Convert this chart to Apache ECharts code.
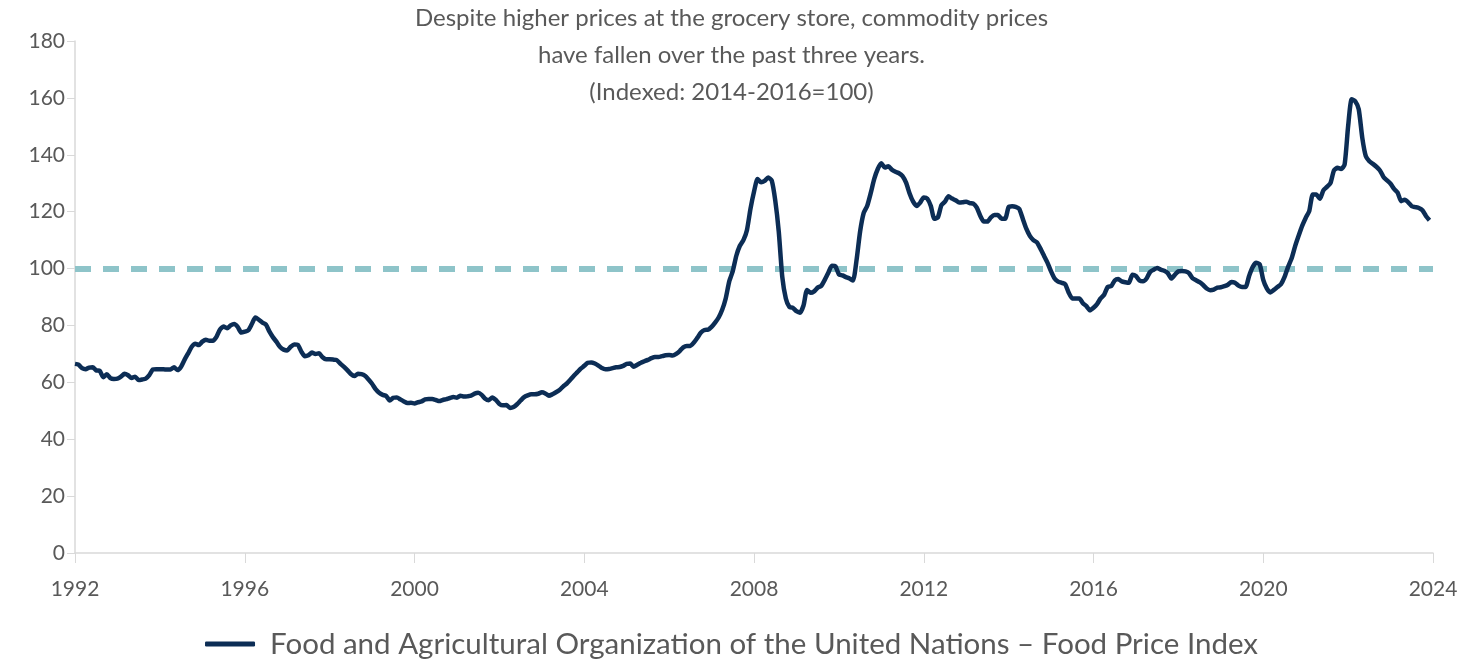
<!DOCTYPE html>
<html>
<head>
<meta charset="utf-8">
<script src="https://cdn.jsdelivr.net/npm/echarts@6/dist/echarts.min.js"></script>
<style>
  html, body { margin: 0; padding: 0; background: #fff; }
  #chart { width: 1463px; height: 661px; }
</style>
</head>
<body>
<div id="chart"></div>
<script>
// FAO Food Price Index, monthly, Jan 1992 onward (2014-2016 = 100)
const startYear = 1992;
const fpi1990s = [
  66.5, 66.2, 65, 64.6, 65.2, 65.3, 64.2, 64, 61.8, 62.8, 61.5, 61.2,
  61.3, 62, 63, 62.5, 61.5, 62, 60.8, 61, 61.3, 62.5, 64.5, 64.6,
  64.6, 64.6, 64.5, 64.5, 65.3, 64.3, 65.5, 68, 70.2, 72.5, 73.6, 73.1,
  74.3, 75, 74.6, 74.6, 76, 78.6, 79.6, 79, 80, 80.5, 79.5, 77.5,
  77.8, 78.3, 80.5, 82.8, 82, 81, 80.3, 77.8, 75.8, 74.2, 72.4, 71.5,
  71.2, 72.5, 73.3, 73.2, 70.8, 69.2, 69.5, 70.5, 70, 70.2, 68.8, 68.1,
  68.1, 68, 67.8, 66.6, 65.5, 64.3, 62.9, 62.2, 63, 62.9, 62.3, 61,
  59.5, 57.6, 56.3, 55.6, 55.2, 53.6, 54.6, 54.7, 54, 53.3, 52.7, 52.8
];
const fpi2000s = [
  52.6, 53, 53.3, 54, 54.1, 54.1, 53.8, 53.4, 53.8, 54.1, 54.5, 54.8,
  54.6, 55.3, 55, 55.1, 55.3, 56, 56.3, 55.6, 54.2, 53.7, 54.7, 53.8,
  52.4, 51.9, 52, 51, 51.3, 52.3, 53.6, 54.8, 55.4, 55.8, 55.8, 56,
  56.5, 56.1, 55.3, 55.8, 56.5, 57.3, 58.5, 59.5, 60.8, 62.2, 63.5, 64.8,
  65.8, 66.9, 67, 66.6, 65.9, 65, 64.6, 64.7, 65, 65.3, 65.4, 65.8,
  66.5, 66.6, 65.5, 66.2, 66.9, 67.4, 67.9, 68.5, 68.9, 68.9, 69.2, 69.5,
  69.6, 69.4, 70, 71, 72.3, 72.8, 72.8, 74, 75.7, 77.5, 78.4, 78.5,
  79.5, 81, 82.8, 85.5, 89.5, 95.5, 99.1, 104.5, 108, 110, 113.5, 121,
  127, 131.5, 130.3, 130.8, 132, 131, 124, 113, 97, 89.5, 86.5, 86.2,
  85, 84.5, 87, 92.5, 91.5, 92, 93.3, 93.9, 96, 98.5, 101, 100.8
];
const fpi2010s = [
  98, 97.6, 97, 96.5, 95.8, 103, 113, 119.5, 122, 126.5, 131.5, 135,
  137, 135.5, 136, 134.7, 134, 133.5, 132.5, 130.2, 126.4, 123.5, 122, 123.2,
  125, 124.6, 122, 117.5, 118, 122.3, 123.5, 125.4, 124.6, 124, 123.2, 123.3,
  123.5, 123, 122.8, 121.4, 118.5, 116.5, 116.5, 118, 118.8, 118.8, 117.5, 117.5,
  121.6, 121.9, 121.7, 121, 117.5, 114, 111.5, 110, 109.2, 107, 104.5, 102,
  99, 96.5, 95.4, 95, 94.5, 91.5, 89.5, 89.5, 89.5, 87.8, 86.8, 85.3,
  86.2, 87.5, 89.5, 90.8, 93.5, 93.8, 95.8, 96.3, 95.5, 95.2, 95, 97.8,
  97.4, 95.8, 95.5, 96.5, 98.8, 99.6, 100.2, 99.6, 99.2, 98.4, 96.5, 97.8,
  99, 99.1, 99, 98.4, 96.6, 95.9, 95.2, 94.2, 93, 92.4, 92.6, 93.3,
  93.4, 93.8, 94.3, 95.3, 95, 94, 93.5, 93.5, 97.4, 100.5, 102, 101.5
];
const fpi2020s = [
  96, 93, 91.6, 92.5, 93.5, 94.5, 97, 100.5, 103.5, 107.8, 111.5, 115,
  117.8, 120.2, 126, 126, 124.5, 127.5, 128.7, 130, 134.5, 135.4, 135, 136.5,
  150, 159.5, 158.8, 156, 146, 139.5, 137.7, 136.8, 135.8, 134.5, 132.2, 131,
  129.8, 128, 126.7, 123.7, 124.2, 123.3, 121.9, 121.6, 121.3, 120.5, 118.5, 117
];
const baseline = 100;
const yTicks = [0, 20, 40, 60, 80, 100, 120, 140, 160, 180];

const titleLines = [
  'Despite higher prices at the grocery store, commodity prices',
  'have fallen over the past three years.',
  '(Indexed: 2014-2016=100)'
];
const seriesName = 'Food and Agricultural Organization of the United Nations \u2013 Food Price Index';

const allValues = [].concat(fpi1990s, fpi2000s, fpi2010s, fpi2020s);
const seriesData = allValues.map((v, i) => [startYear + i / 12, v]);

const textColor = '#595959';
const font = 'Lato';

const chart = echarts.init(document.getElementById('chart'));
chart.setOption({
  animation: false,
  title: {
    text: titleLines.join('\n'),
    left: 'center',
    top: 0,
    padding: 0,
    textStyle: { fontFamily: font, fontSize: 24, fontWeight: 'normal', color: textColor, lineHeight: 37 }
  },
  grid: { left: 75, right: 30, top: 41, bottom: 108 },
  legend: {
    top: 624,
    left: 'center',
    icon: 'roundRect',
    itemWidth: 50,
    itemHeight: 5,
    textStyle: { fontFamily: font, fontSize: 29.5, color: textColor, padding: [0, 0, 0, 10] },
    data: [seriesName]
  },
  xAxis: {
    type: 'value',
    min: 1992,
    max: 2024,
    interval: 4,
    axisLine: { lineStyle: { color: '#d9d9d9', width: 1.5 } },
    axisTick: { length: 10, lineStyle: { color: '#d9d9d9' } },
    axisLabel: { fontFamily: font, fontSize: 21, color: textColor, margin: 26, formatter: v => String(v) },
    splitLine: { show: false }
  },
  yAxis: {
    type: 'value',
    min: yTicks[0],
    max: yTicks[yTicks.length - 1],
    interval: 20,
    axisLine: { show: true, lineStyle: { color: '#d9d9d9', width: 1.5 } },
    axisTick: { show: true, length: 8, lineStyle: { color: '#d9d9d9' } },
    axisLabel: { fontFamily: font, fontSize: 21, color: textColor, margin: 10 },
    splitLine: { show: false }
  },
  series: [{
    name: seriesName,
    type: 'line',
    data: seriesData,
    symbol: 'none',
    smooth: 0.2,
    color: '#0c2d55',
    lineStyle: { color: '#0c2d55', width: 4.5 },
    z: 3,
    markLine: {
      silent: true,
      symbol: 'none',
      label: { show: false },
      lineStyle: { color: '#8ec4c9', width: 6, type: [16, 12] },
      data: [{ yAxis: baseline }],
      z: 2
    }
  }]
});
</script>
</body>
</html>
